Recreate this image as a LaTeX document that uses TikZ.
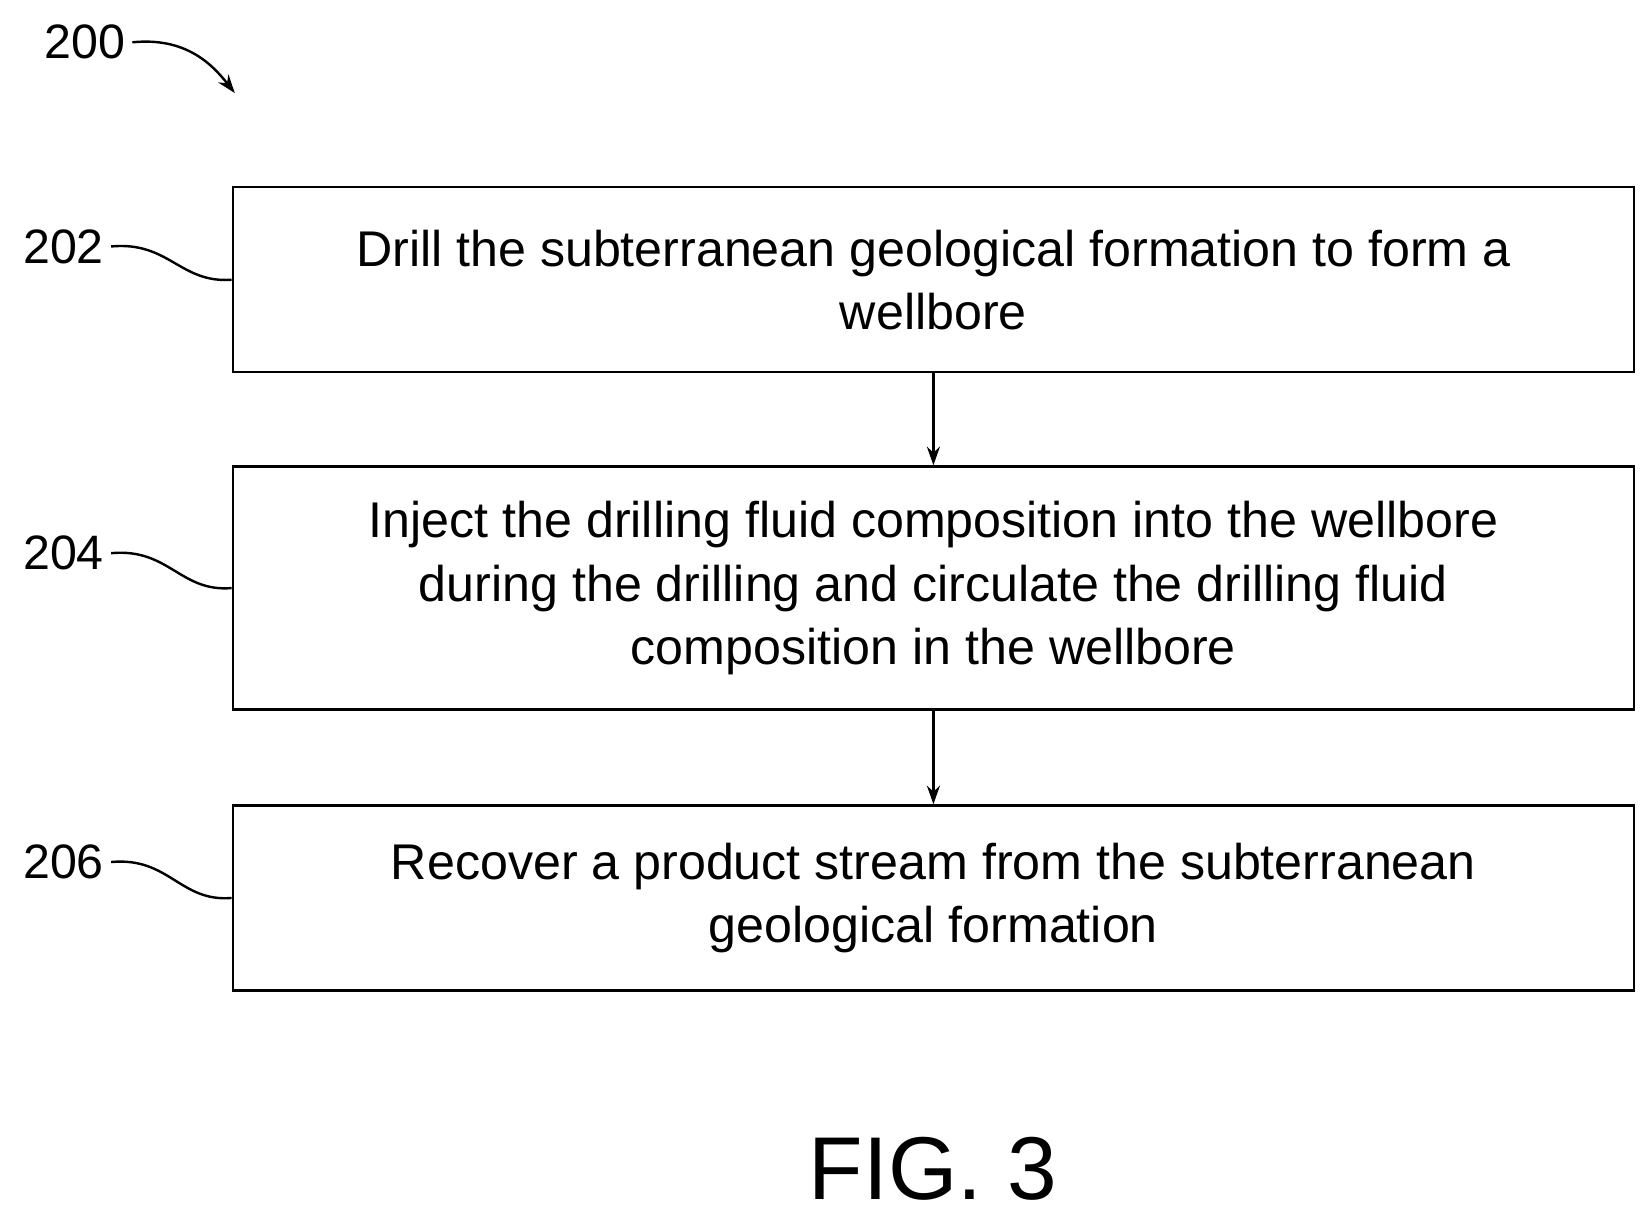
\documentclass[tikz,border=0pt]{standalone}
\usepackage{fontspec}
\setmainfont{Liberation Sans}
\usetikzlibrary{arrows.meta}

\begin{document}
\begin{tikzpicture}[x=0.02cm, y=-0.02cm, line width=1.3pt]
\tikzstyle{stepbox} = [draw, minimum width=26.5cm, align=center, font=\fontsize{27}{34}\selectfont]
\tikzstyle{ref} = [font=\fontsize{26}{30}\selectfont]
\useasboundingbox (0,0) rectangle (1560,1148);

\draw (882.5, 264.5) node[stepbox, minimum height=3.5cm] (s202) {Drill the subterranean geological formation to form a\\wellbore};
\draw (882.5, 556) node[stepbox, minimum height=4.6cm] (s204) {Inject the drilling fluid composition into the wellbore\\during the drilling and circulate the drilling fluid\\composition in the wellbore};
\draw (882.5, 849) node[stepbox, minimum height=3.5cm] (s206) {Recover a product stream from the subterranean\\geological formation};

\draw[-{Stealth[length=10pt,width=7pt]}] (s202) -- (s204);
\draw[-{Stealth[length=10pt,width=7pt]}] (s204) -- (s206);

\node[ref] (r200) at (80, 40) {200};
\node[ref] (r202) at (60, 233) {202};
\node[ref] (r204) at (60, 523) {204};
\node[ref] (r206) at (60, 815) {206};
\coordinate (a200) at (222, 88);

\draw[-{Stealth[length=10pt,width=7pt]}] (r200.east) .. controls (175, 35) and (200, 60) .. (a200);
\draw (r202.east) .. controls (160, 228) and (170, 268) .. (s202.west);
\draw (r204.east) .. controls (160, 518) and (170, 560) .. (s204.west);
\draw (r206.east) .. controls (160, 810) and (170, 853) .. (s206.west);

\node[font=\fontsize{48}{50}\selectfont] (fig) at (882, 1105) {FIG. 3};
\end{tikzpicture}
\end{document}
